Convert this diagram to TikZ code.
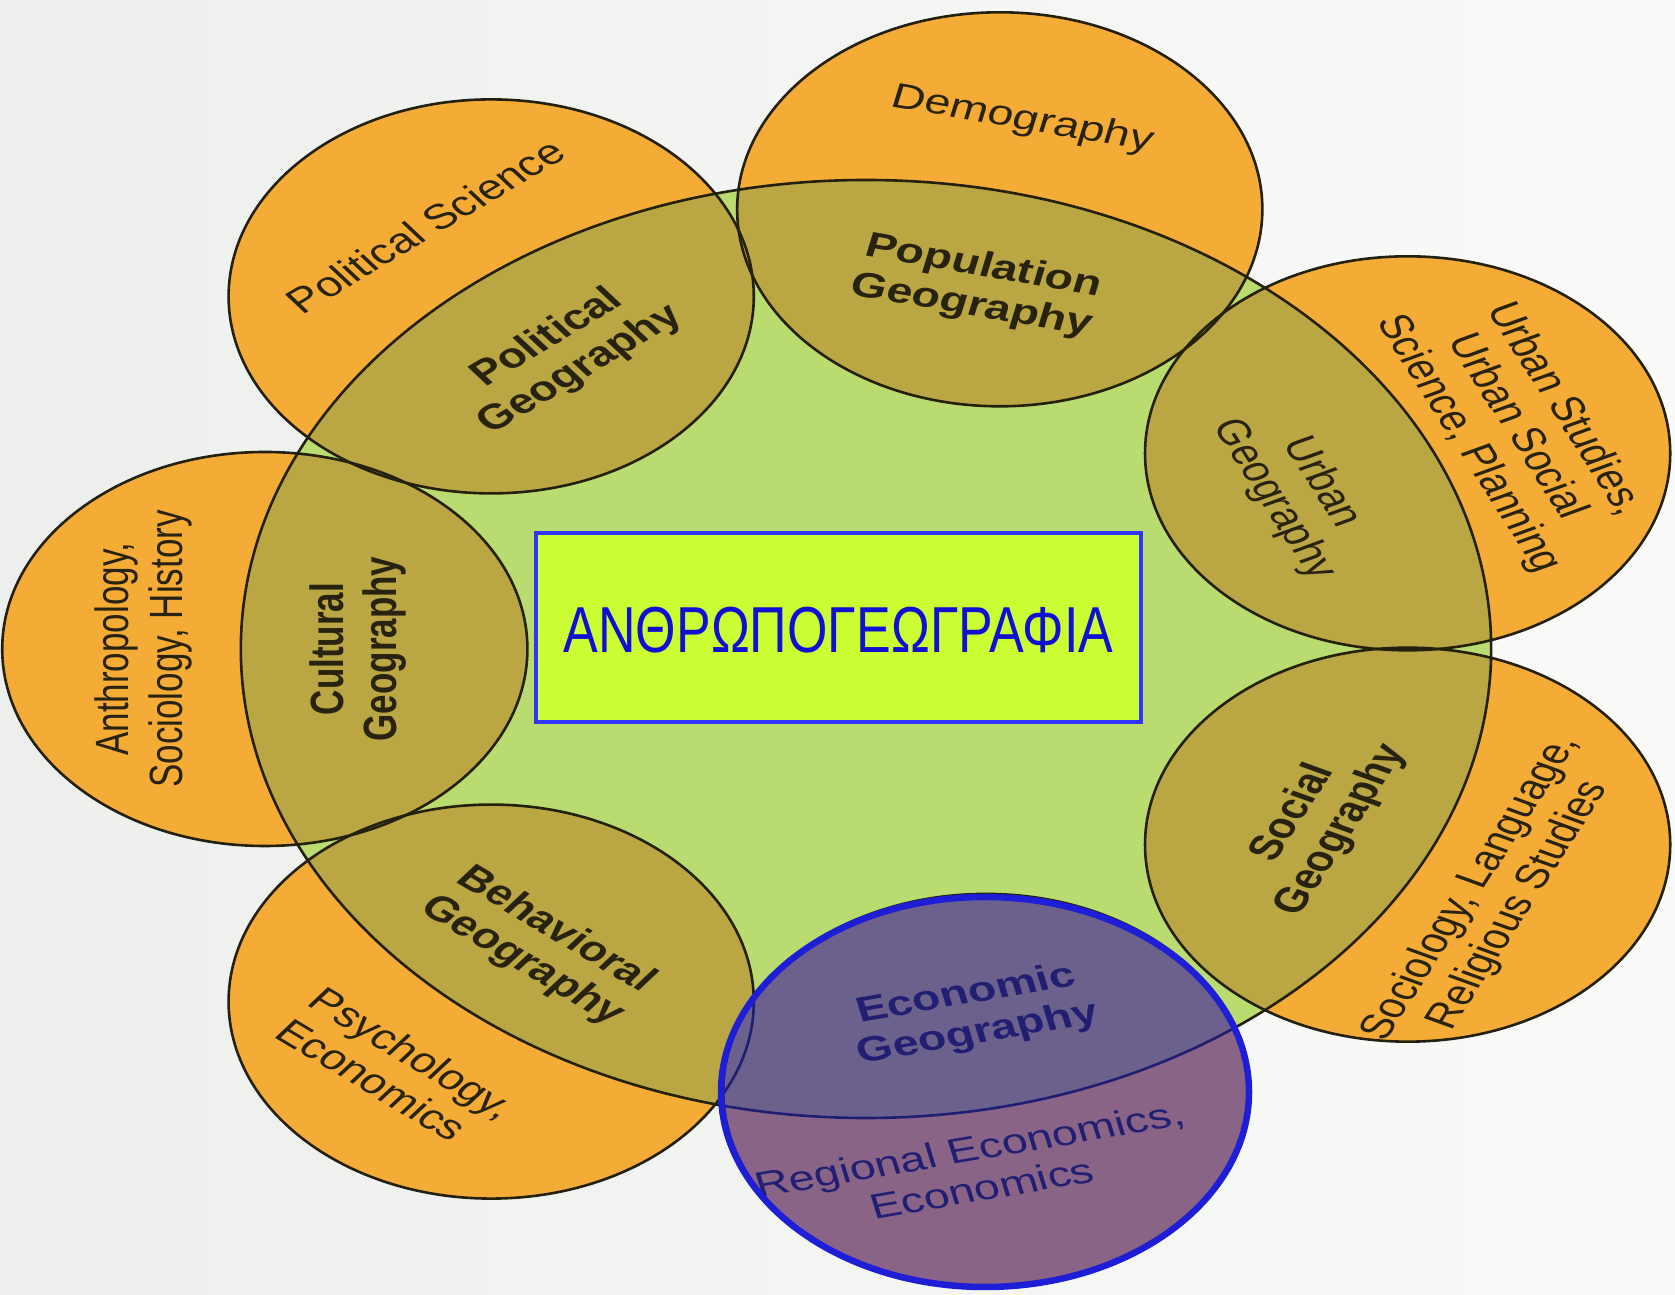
\documentclass[tikz,border=0pt]{standalone}
\usepackage{fontspec}
\setmainfont{Liberation Sans}
\definecolor{bgl}{RGB}{236,239,235}
\definecolor{bgr}{RGB}{250,251,249}
\definecolor{orangec}{RGB}{245,172,54}
\definecolor{olivec}{RGB}{186,166,66}
\definecolor{greenc}{RGB}{186,219,112}
\definecolor{linec}{RGB}{36,32,14}
\definecolor{txtc}{RGB}{40,34,16}
\definecolor{boxfill}{RGB}{204,255,51}
\definecolor{boxline}{RGB}{51,51,255}
\definecolor{boxtext}{RGB}{16,16,210}
\definecolor{ecoblue}{RGB}{30,30,215}
\begin{document}
\begin{tikzpicture}[x=1pt,y=1pt,
  lab/.style={text=txtc, font=\fontsize{35}{40}\selectfont, align=center, inner sep=0pt, transform shape},
  blab/.style={lab, font=\fontsize{35}{40}\selectfont\bfseries},
  ring/.style={draw=linec, line width=2.6pt}]
\useasboundingbox (0,0) rectangle (1675,1295);
\shade[left color=bgl, right color=bgr] (0,0) rectangle (1675,1295);
\begin{scope}[shift={(866,646)}, xscale=1.333]
  \fill[greenc] (0,0) circle (469pt);
  \foreach \a in {180,128.571,77.143,25.714,-25.714,-78.5,-128.571}
    \fill[orangec] (\a:451pt) circle (197pt);
  \begin{scope}
    \clip (0,0) circle (469pt);
    \foreach \a in {180,128.571,77.143,25.714,-25.714,-78.5,-128.571}
      \fill[olivec] (\a:451pt) circle (197pt);
  \end{scope}
  \draw[ring] (0,0) circle (469pt);
  \foreach \a in {180,128.571,77.143,25.714,-25.714,-78.5,-128.571}
    \draw[ring] (\a:451pt) circle (197pt);
  % labels
  \node[blab, rotate=90] (cultG) at (180:381pt) {Cultural\\Geography};
  \node[lab, rotate=90] (anth) at (180:542pt) {Anthropology,\\Sociology, History};
  \node[blab, rotate=38.57] (polG) at (127.5:372pt) {Political\\Geography};
  \node[lab, rotate=38.57] (polS) at (128:537pt) {Political Science};
  \node[blab, rotate=-12.86] (popG) at (77:372pt) {Population\\Geography};
  \node[lab, rotate=-12.86] (demo) at (77.5:542pt) {Demography};
  \node[lab, rotate=-64.29] (urbG) at (26:360pt) {Urban\\Geography};
  \node[lab, rotate=-64.29] (urbS) at (24.5:536pt) {Urban Studies,\\Urban Social\\Science, Planning};
  \node[blab, rotate=64.29] (socG) at (-27:380pt) {Social\\Geography};
  \node[lab, rotate=64.29] (socS) at (-27.7:533pt) {Sociology, Language,\\Religious Studies};
  \node[blab, rotate=12.86] (ecoG) at (-77.7:374pt) {Economic\\Geography};
  \node[lab, rotate=12.86] (ecoS) at (-81:526pt) {Regional Economics,\\Economics};
  \node[blab, rotate=-38.57] (behG) at (-129.6:385pt) {Behavioral\\Geography};
  \node[lab, rotate=-38.57, align=left] (psyS) at (-130:548pt) {Psychology,\\Economics};
\end{scope}
% blue overlay on economic circle
\draw[draw=ecoblue, line width=6.5pt, fill=ecoblue, fill opacity=0.5] (985,203) ellipse (264pt and 195pt);
% central box
\node[draw=boxline, line width=4pt, fill=boxfill, minimum width=605pt, minimum height=189pt, inner sep=0pt] (box) at (838.5,667.5) {};
\node[text=boxtext, font=\fontsize{65}{65}\selectfont, xscale=0.8, inner sep=0pt] (title) at (838.5,665) {ΑΝΘΡΩΠΟΓΕΩΓΡΑΦΙΑ};
\end{tikzpicture}
\end{document}
